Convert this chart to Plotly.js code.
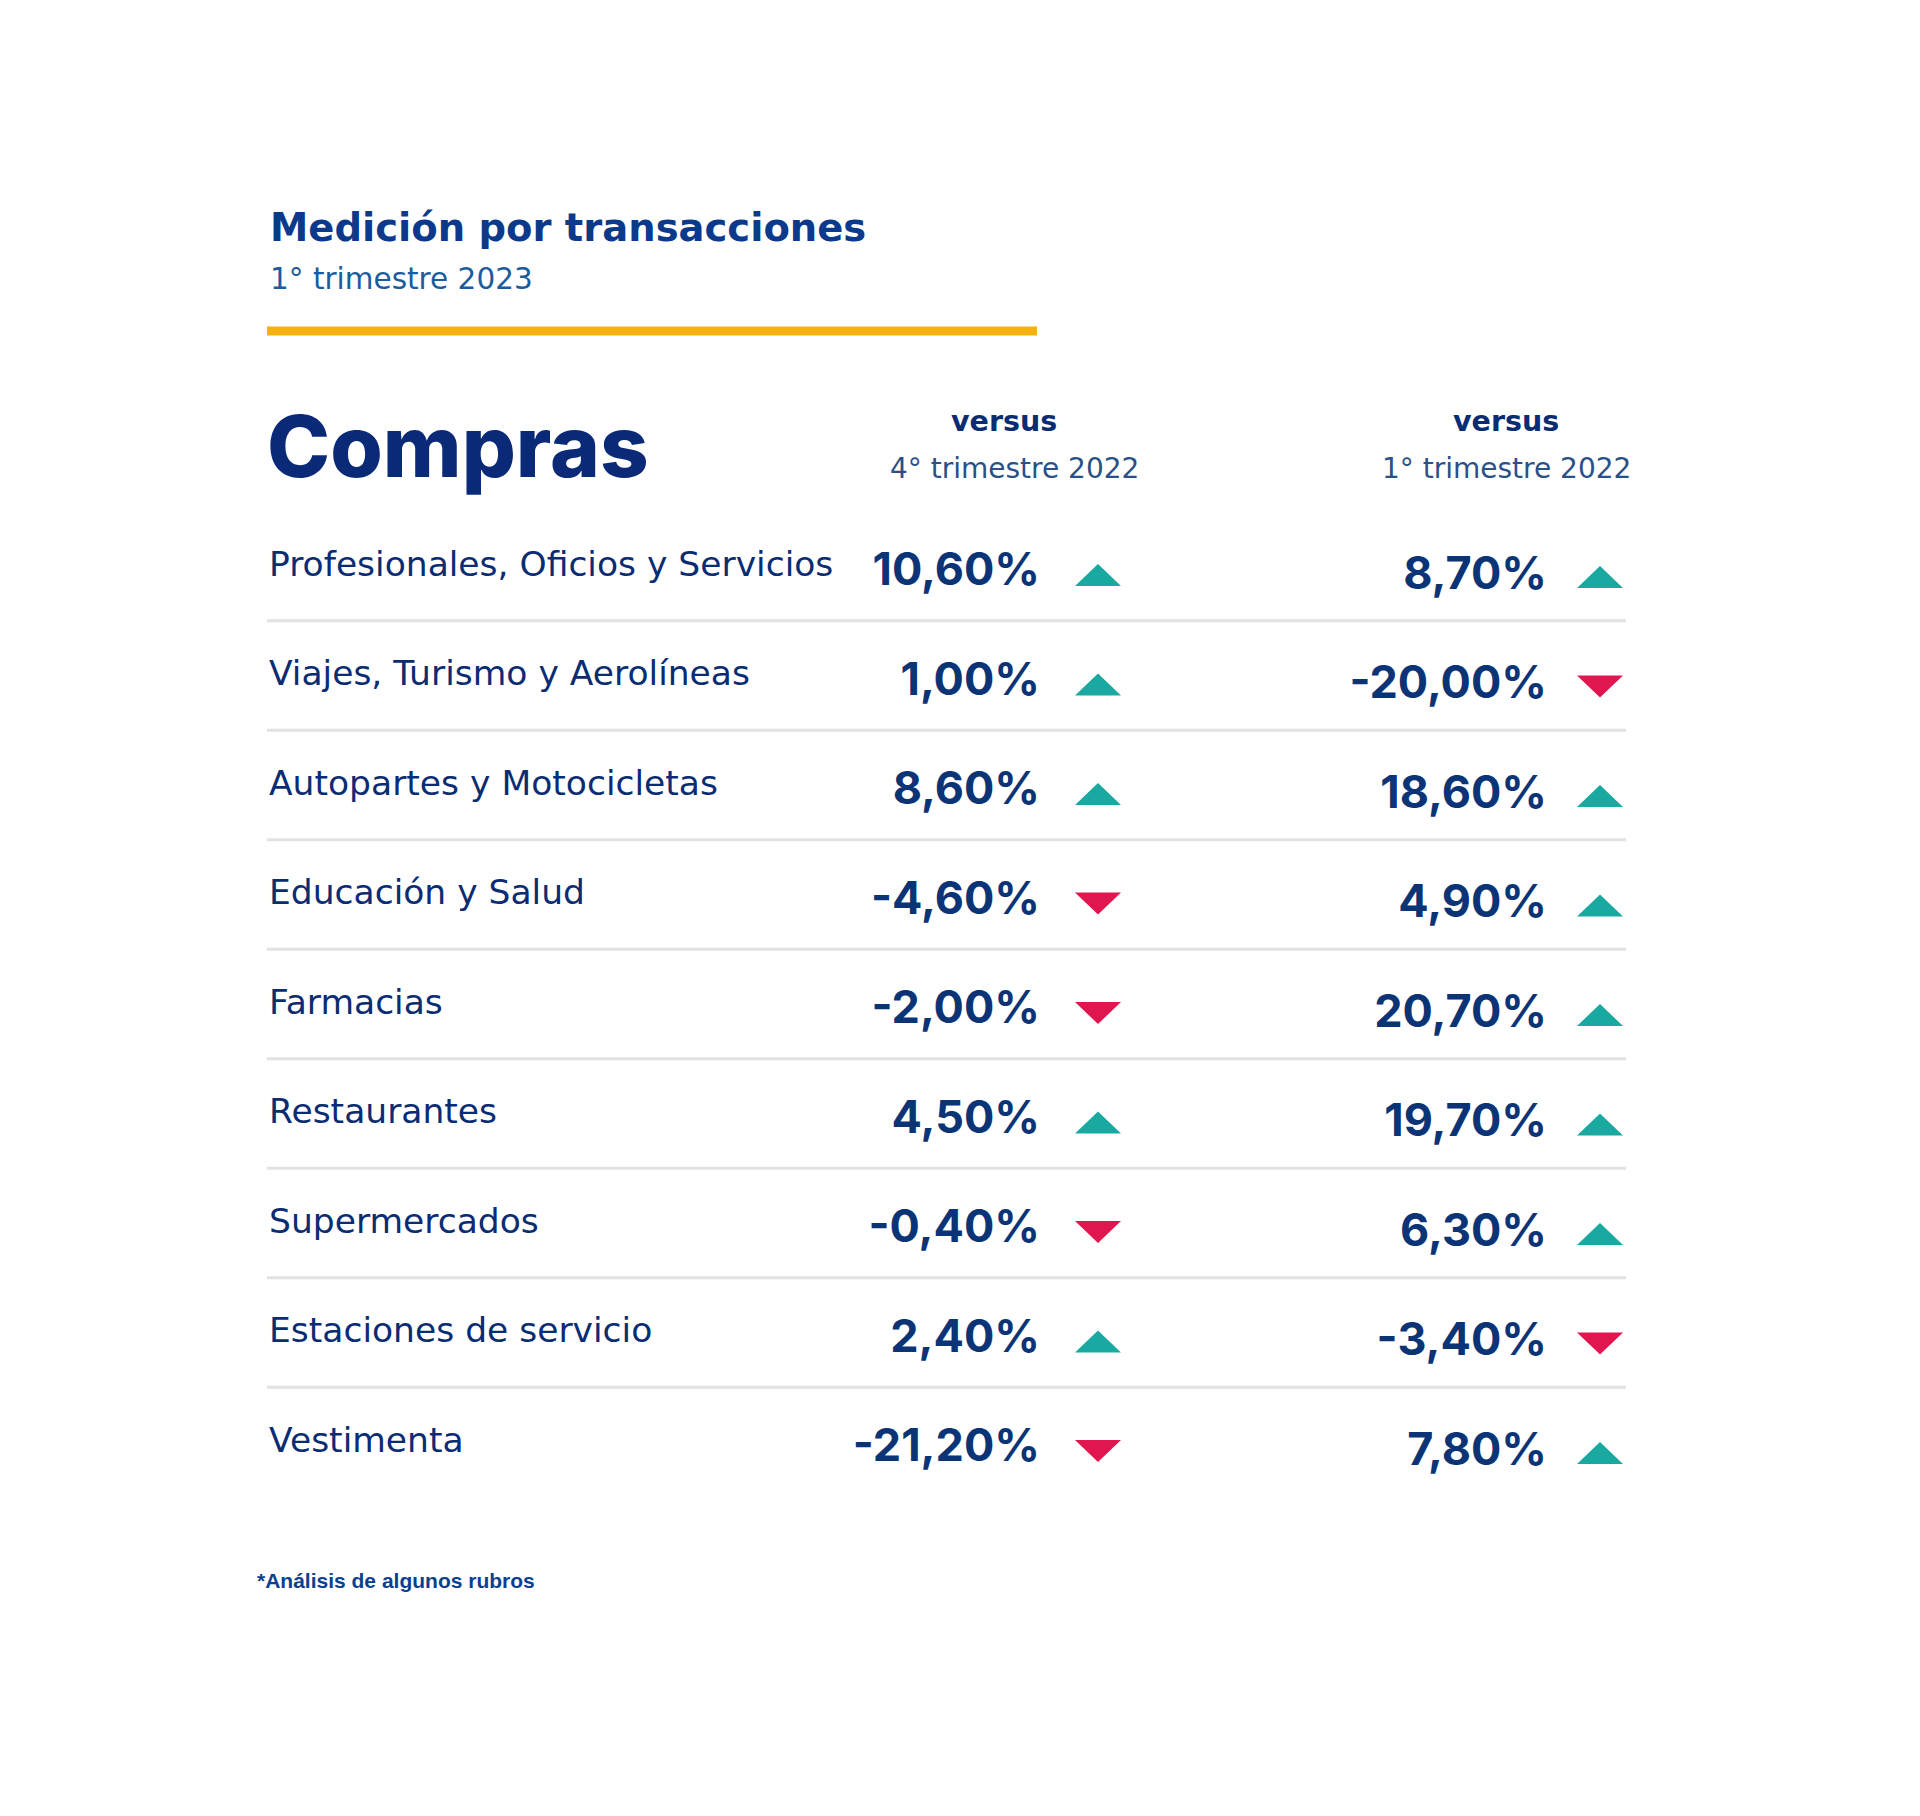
<!DOCTYPE html>
<html>
<head>
<meta charset="utf-8">
<script src="https://cdn.plot.ly/plotly-3.0.1.min.js"></script>
<style>
  html, body { margin: 0; padding: 0; background: #ffffff; }
  #chart { width: 1920px; height: 1816px; }
</style>
</head>
<body>
<div id="chart"></div>
<script>
// ---------- DATA ----------
const categories = [
  "Profesionales, Oficios y Servicios",
  "Viajes, Turismo y Aerolíneas",
  "Autopartes y Motocicletas",
  "Educación y Salud",
  "Farmacias",
  "Restaurantes",
  "Supermercados",
  "Estaciones de servicio",
  "Vestimenta"
];
const vsQ4_2022 = [10.6, 1.0, 8.6, -4.6, -2.0, 4.5, -0.4, 2.4, -21.2];
const vsQ1_2022 = [8.7, -20.0, 18.6, 4.9, 20.7, 19.7, 6.3, -3.4, 7.8];

const titleText = "Medición por transacciones";
const subtitleText = "1° trimestre 2023";
const sectionText = "Compras";
const colHeaderTop = ["versus", "versus"];
const colHeaderSub = ["4° trimestre 2022", "1° trimestre 2022"];
const footnoteText = "*Análisis de algunos rubros";

// ---------- STYLE / LAYOUT CONSTANTS ----------
const W = 1920, H = 1816;
const FONT_VAL = "Inter, 'Noto Sans', sans-serif";
const FONT_TXT = "'DejaVu Sans', Inter, sans-serif";
const NAVY = "#0a2c72";
const VALNAVY = "#0b3476";
const UP = "#1aa9a0";
const DOWN = "#e0174f";

const labelX = 269;
const colValX = [1040, 1547];
const colTriX = [1098, 1600];
const rowCenter0 = 567;          // px of first row centre
const rowStepPx = 109.5;
const n = categories.length;
const rowTopPx = rowCenter0 - rowStepPx / 2;
const tableBottomPx = rowTopPx + n * rowStepPx;
const py = p => 1 - p / H;
const u = p => p / rowStepPx;    // px -> row units

const valShift = [u(7), u(10.5)];   // values sit a bit below the labels
const triShift = [u(8), u(10)];
const triHalfW = 23, triH = u(22);

const fmt = v => v.toFixed(2).replace('.', ',') + '%';

const traces = [];

// Row labels
traces.push({
  type: 'scatter', mode: 'text',
  x: categories.map(() => labelX),
  y: categories,
  text: categories,
  textposition: 'middle right',
  textfont: { family: FONT_TXT, size: 34.5, color: NAVY },
  hoverinfo: 'skip', showlegend: false, cliponaxis: false
});

[vsQ4_2022, vsQ1_2022].forEach((vals, c) => {
  // percentage values
  traces.push({
    type: 'scatter', mode: 'text',
    x: vals.map(() => colValX[c]),
    y: vals.map((v, i) => i + valShift[c]),
    yaxis: 'y2',
    text: vals.map(fmt),
    textposition: 'middle left',
    textfont: { family: FONT_VAL, size: 45, color: VALNAVY, weight: 700 },
    hoverinfo: 'skip', showlegend: false, cliponaxis: false
  });
  // direction triangles (one filled polygon trace per direction)
  [[v => v >= 0, UP, -1], [v => v < 0, DOWN, 1]].forEach(([test, col, dir]) => {
    const xs = [], ys = [];
    vals.forEach((v, i) => {
      if (!test(v)) return;
      const cy = i + triShift[c];
      const tipY = cy + dir * triH / 2;
      const baseY = cy - dir * triH / 2;
      xs.push(colTriX[c], colTriX[c] - triHalfW, colTriX[c] + triHalfW, colTriX[c], null);
      ys.push(tipY, baseY, baseY, tipY, null);
    });
    traces.push({
      type: 'scatter', mode: 'lines', x: xs, y: ys, yaxis: 'y2',
      fill: 'toself', fillcolor: col, line: { width: 0, color: col },
      hoverinfo: 'skip', showlegend: false, cliponaxis: false
    });
  });
});

// separators between rows
const shapes = [];
for (let i = 0; i < n - 1; i++) {
  shapes.push({
    type: 'line', xref: 'x', yref: 'y2',
    x0: 267, x1: 1626, y0: i + 0.49, y1: i + 0.49,
    line: { color: '#e2e2e2', width: 3 }
  });
}
// yellow rule under the title
shapes.push({
  type: 'line', xref: 'x', yref: 'paper',
  x0: 267, x1: 1037, y0: py(331), y1: py(331),
  line: { color: '#f5b20f', width: 9 }
});

const annotations = [
  { text: titleText, x: labelX - 1, y: py(228), xanchor: 'left', yanchor: 'middle',
    font: { family: FONT_TXT, size: 38.5, color: '#0b3a8c', weight: 700 } },
  { text: subtitleText, x: labelX - 1, y: py(279), xanchor: 'left', yanchor: 'middle',
    font: { family: FONT_TXT, size: 29.5, color: '#1b5c9c' } },
  { text: sectionText, x: labelX - 4, y: py(447), xanchor: 'left', yanchor: 'middle',
    font: { family: FONT_VAL, size: 85, color: '#0a2a78', weight: 800 } },
  { text: colHeaderTop[0], x: 1004, y: py(422), xanchor: 'center', yanchor: 'middle',
    font: { family: FONT_TXT, size: 28.5, color: NAVY, weight: 700 } },
  { text: colHeaderSub[0], x: 1014, y: py(469), xanchor: 'center', yanchor: 'middle',
    font: { family: FONT_TXT, size: 28, color: '#2a5088' } },
  { text: colHeaderTop[1], x: 1506, y: py(422), xanchor: 'center', yanchor: 'middle',
    font: { family: FONT_TXT, size: 28.5, color: NAVY, weight: 700 } },
  { text: colHeaderSub[1], x: 1506, y: py(469), xanchor: 'center', yanchor: 'middle',
    font: { family: FONT_TXT, size: 28, color: '#2a5088' } },
  { text: footnoteText, x: 255, y: py(1580), xanchor: 'left', yanchor: 'middle',
    font: { family: "'Liberation Sans Narrow', 'Liberation Sans', sans-serif", size: 21, color: '#0b3f8f', weight: 700 } }
].map(a => Object.assign({ xref: 'x', yref: 'paper', showarrow: false }, a));

const layout = {
  width: W, height: H,
  margin: { l: 0, r: 0, t: 0, b: 0, pad: 0 },
  paper_bgcolor: '#ffffff', plot_bgcolor: '#ffffff',
  showlegend: false,
  xaxis: { range: [0, W], visible: false, fixedrange: true },
  yaxis: {
    type: 'category', categoryarray: categories, categoryorder: 'array',
    range: [n - 0.5, -0.5], visible: false, fixedrange: true,
    domain: [py(tableBottomPx), py(rowTopPx)]
  },
  yaxis2: {
    type: 'linear', range: [n - 0.5, -0.5], visible: false, fixedrange: true,
    overlaying: 'y', anchor: 'x'
  },
  shapes: shapes,
  annotations: annotations
};

Plotly.newPlot('chart', traces, layout, { displayModeBar: false, staticPlot: true });
</script>
</body>
</html>
